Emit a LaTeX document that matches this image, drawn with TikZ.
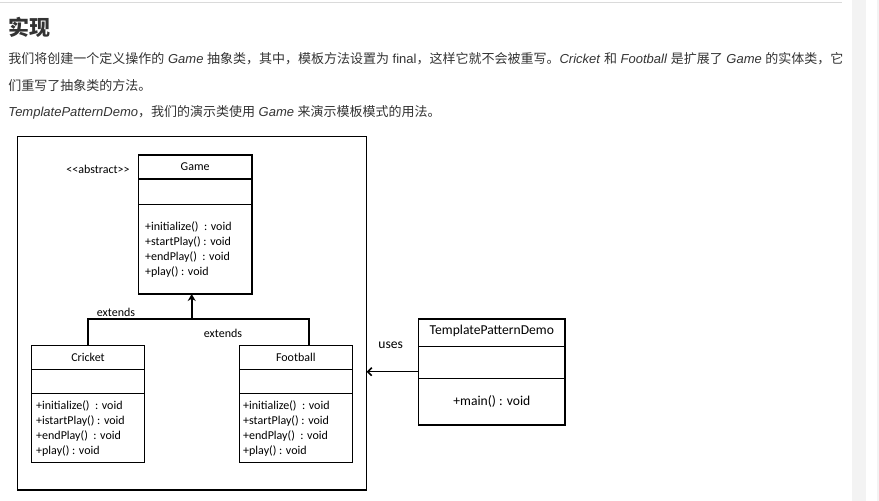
\documentclass[tikz,border=0pt]{standalone}
\usepackage{fontspec}
\setmainfont{Liberation Sans}
\newfontfamily\cjk{Noto Sans CJK SC}
\newfontfamily\uml{Carlito}
\usetikzlibrary{arrows.meta}
\definecolor{bodytxt}{HTML}{333333}
\definecolor{rule}{HTML}{DADADA}
\definecolor{side}{HTML}{F3F3F3}
\begin{document}
\begin{tikzpicture}[x=1pt,y=-1pt,
  comp/.style={draw, line width=1.3pt, inner sep=0pt, outer sep=0pt},
  umltxt/.style={font=\uml\fontsize{12}{15}\selectfont, inner sep=0pt},
  bigtxt/.style={font=\uml\fontsize{13.6}{16}\selectfont, inner sep=0pt},
  meth/.style={umltxt, align=left, anchor=west},
  conn/.style={line width=1.5pt},
  bodyline/.style={anchor=base west, inner sep=0pt, text=bodytxt, font=\fontsize{13}{16}\selectfont}]
\useasboundingbox (0,0) rectangle (879,501);
% page decorations
\fill[side] (852,0) rectangle (866,501);
\fill[side] (876.5,0) rectangle (879,501);
\draw[rule, line width=1pt] (0,2.5) -- (842,2.5);
% heading and text
\node[anchor=base west, inner sep=0pt, text=bodytxt, font=\cjk\bfseries\fontsize{21}{24}\selectfont] (title) at (8,35) {实现};
\node[bodyline] (l1) at (8.3,63.5) {{\cjk 我们将创建一个定义操作的} \textit{Game} {\cjk 抽象类，其中，模板方法设置为} final{\cjk ，这样它就不会被重写。}\textit{Cricket} {\cjk 和} \textit{Football} {\cjk 是扩展了} \textit{Game} {\cjk 的实体类，它}};
\node[bodyline] (l2) at (8.3,90.3) {{\cjk 们重写了抽象类的方法。}};
\node[bodyline] (l3) at (8.3,116.5) {\textit{TemplatePatternDemo}{\cjk ，我们的演示类使用} \textit{Game} {\cjk 来演示模板模式的用法。}};
% frame
\node[comp, minimum width=349.4pt, minimum height=353.3pt] (frame) at (192,313.35) {};
% Game
\node[comp, minimum width=113.7pt, minimum height=24pt] (gameT) at (195.15,167) {};
\node[comp, minimum width=113.7pt, minimum height=25.3pt] (gameA) at (195.15,191.65) {};
\node[comp, minimum width=113.7pt, minimum height=89.7pt] (gameM) at (195.15,249.15) {};
\node[umltxt] (gameN) at (gameT) {Game};
\node[meth] (gameL) at ([xshift=6.7pt]gameM.west) {+initialize()\ \ : void\\+startPlay()\ : void\\+endPlay()\ \ : void\\+play()\ : void};
\node[umltxt] (abs) at (98,169) {<{}<abstract>{}>};
% Cricket
\node[comp, minimum width=112.6pt, minimum height=23.6pt] (cricketT) at (88,357.5) {};
\node[comp, minimum width=112.6pt, minimum height=24.4pt] (cricketA) at (88,381.5) {};
\node[comp, minimum width=112.6pt, minimum height=68.6pt] (cricketM) at (88,428) {};
\node[umltxt] (cricketN) at (cricketT) {Cricket};
\node[meth] (cricketL) at ([xshift=4.3pt,yshift=-1pt]cricketM.west) {+initialize()\ \ : void\\+istartPlay()\ : void\\+endPlay()\ \ : void\\+play()\ : void};
% Football
\node[comp, minimum width=113pt, minimum height=23.6pt] (footT) at (295.8,357.5) {};
\node[comp, minimum width=113pt, minimum height=24.4pt] (footA) at (295.8,381.5) {};
\node[comp, minimum width=113pt, minimum height=68.6pt] (footM) at (295.8,428) {};
\node[umltxt] (footN) at (footT) {Football};
\node[meth] (footL) at ([xshift=3.7pt,yshift=-1pt]footM.west) {+initialize()\ \ : void\\+startPlay()\ : void\\+endPlay()\ \ : void\\+play()\ : void};
% TemplatePatternDemo
\node[comp, minimum width=146.3pt, minimum height=27.7pt] (tpdT) at (491.85,332.85) {};
\node[comp, minimum width=146.3pt, minimum height=32pt] (tpdA) at (491.85,362.7) {};
\node[comp, minimum width=146.3pt, minimum height=46.3pt] (tpdM) at (491.85,401.85) {};
\node[bigtxt] (tpdN) at ([yshift=1.5pt]tpdT) {TemplatePatternDemo};
\node[bigtxt] (tpdL) at (tpdM) {+main() : void};
% connectors
\coordinate (join) at (191.7,319);
\draw[conn] (cricketT.north) |- (join);
\draw[conn] ([xshift=13.2pt]footT.north) |- (join);
\draw[line width=2pt, -{Stealth[length=7pt,width=8pt]}] (join) -- (join |- gameM.south);
\node[umltxt] (ext1) at (116,312) {extends};
\node[umltxt] (ext2) at (223,333) {extends};
\draw[conn, -{Straight Barb[length=4pt,width=8pt]}] ([yshift=-9pt]tpdA.west) coordinate (u0) -- (u0 -| frame.east);
\node[bigtxt] (uses) at (390.7,345) {uses};
\end{tikzpicture}
\end{document}
